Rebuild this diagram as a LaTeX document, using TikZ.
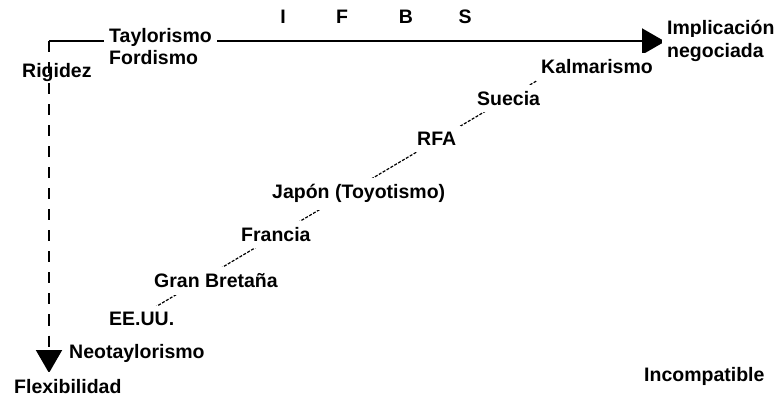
\documentclass[tikz,border=0pt]{standalone}
\usepackage{fontspec}
\setmainfont{Liberation Sans}
\usetikzlibrary{arrows.meta,backgrounds}

\begin{document}
\begin{tikzpicture}[x=1pt,y=-1pt,
        axis/.style={draw=black,line width=2pt,-{Triangle[length=23pt,width=26pt]}},
        diagonal/.style={draw=black,line width=1.2pt,dash pattern=on 3pt off 1.5pt}]
    \useasboundingbox (0,0) rectangle (777,398);
    \coordinate (corner) at (49,41.5);
    \coordinate (htip) at (665,41.5);
    \coordinate (vtip) at (49,373);
    \draw[axis] (corner) -- (htip);
    \draw[axis,dash pattern=on 11pt off 10pt] (corner) -- (vtip);
    \begin{scope}[every node/.style={anchor=base west,inner xsep=5pt,inner ysep=6.5pt,fill=white,font=\bfseries\fontsize{19.5}{22}\selectfont}]
        \node[anchor=base] (I) at (283,24) {I};
        \node[anchor=base] (F) at (342,24) {F};
        \node[anchor=base] (B) at (406,24) {B};
        \node[anchor=base] (S) at (465,24) {S};
        \node (taylorismo) at (104,42.5) {Taylorismo};
        \node[fill=none] (fordismo) at (104,65) {Fordismo};
        \node[fill=none] (rigidez) at (17,77.5) {Rigidez};
        \node (implicacion) at (662,35) {Implicación};
        \node (negociada) at (662,57.5) {negociada};
        \node (kalmarismo) at (536,74) {Kalmarismo};
        \node (suecia) at (472,105.7) {Suecia};
        \node (rfa) at (412,146) {RFA};
        \node (japon) at (267,199) {Japón (Toyotismo)};
        \node (francia) at (236,241.7) {Francia};
        \node (granbretana) at (149,288) {Gran Bretaña};
        \node (eeuu) at (104,325.7) {EE.UU.};
        \node (neotaylorismo) at (64,359) {Neotaylorismo};
        \node (flexibilidad) at (9,393) {Flexibilidad};
        \node (incompatible) at (639,381.7) {Incompatible};
    \end{scope}
    \begin{pgfonlayer}{background}
        \draw[diagonal] ([xshift=31pt]eeuu.west) -- ([xshift=24pt]kalmarismo.west);
    \end{pgfonlayer}
\end{tikzpicture}
\end{document}
